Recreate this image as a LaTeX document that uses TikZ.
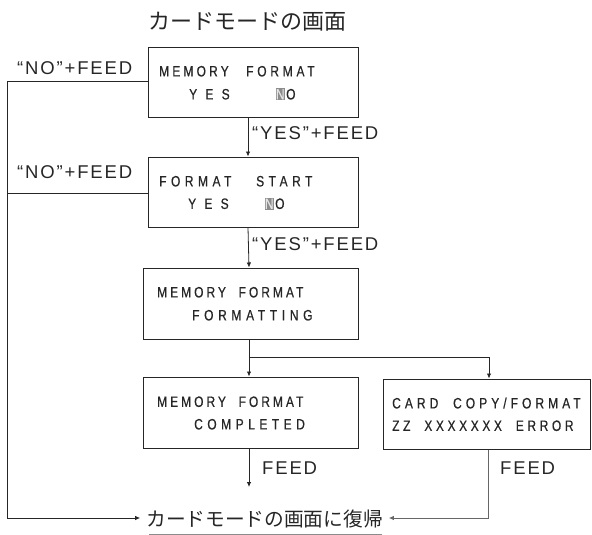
\documentclass[tikz,border=0pt]{standalone}
\usepackage{fontspec}
\setmainfont{Liberation Sans}
\newfontfamily\lcdfont[FakeStretch=0.8,FakeBold=0.6,WordSpace=2]{Liberation Sans}
\newfontfamily\labfont[LetterSpace=10]{Liberation Sans}
\newfontfamily\jpfont{Noto Sans CJK JP}
\newcommand\trk[2]{{\addfontfeature{LetterSpace=#1}#2}}
\usetikzlibrary{arrows.meta}
\begin{document}
\begin{tikzpicture}[x=1pt,y=-1pt,
  box/.style={draw=black!85,line width=1pt,inner sep=0pt,minimum width=#1},
  box/.default=210pt,
  lcd/.style={font=\lcdfont\fontsize{15}{17}\selectfont,inner sep=0pt,anchor=base west,text=black!85},
  hl/.style={font=\lcdfont\fontsize{15}{17}\selectfont,inner xsep=0.2pt,inner ysep=0.8pt,anchor=base west,fill=black!45,text=black!10},
  lab/.style={font=\labfont\fontsize{18.5}{20}\selectfont,inner sep=0pt,anchor=base west,text=black!85},
  conn/.style={draw=black!85,line width=0.8pt},
  arr/.style={conn,-{Latex[length=5pt,width=4.5pt]}},
]
\useasboundingbox (0,0) rectangle (592,535);

% title
\node[font=\jpfont\fontsize{22}{24}\selectfont,inner sep=0pt,text=black!85] (title) at (247.5,22) {カードモードの画面};

% boxes
\node[box,minimum height=69pt] (b1) at (253,82.5) {};
\node[box,minimum height=70pt] (b2) at (253,192) {};
\node[box=215pt,minimum height=71pt] (b3) at (250.5,303.5) {};
\node[box=215pt,minimum height=71pt] (b4) at (250.5,412.5) {};
\node[box=207pt,minimum height=70pt] (b5) at (486.5,414) {};

% box texts
\node[lcd] (t1a) at (159,76.4) {\trk{21}{MEMORY}};
\node[lcd] (t1b) at (246,76.4) {\trk{25}{FORMAT}};
\node[lcd] (t1c) at (189,99.4) {\trk{55}{YES}};
\node[hl] (t1n) at (275.5,99.4) {N};
\node[lcd] (t1o) at (286,99.4) {O};

\node[lcd] (t2a) at (159,186.4) {\trk{30}{FORMAT}};
\node[lcd] (t2b) at (256,186.4) {\trk{30}{START}};
\node[lcd] (t2c) at (188,208.9) {\trk{55}{YES}};
\node[hl] (t2n) at (264.5,208.9) {N};
\node[lcd] (t2o) at (275,208.9) {O};

\node[lcd] (t3a) at (157,297.4) {\trk{20}{MEMORY FORMAT}};
\node[lcd] (t3b) at (192,320.4) {\trk{31}{FORMATTING}};

\node[lcd] (t4a) at (157,406.9) {\trk{20}{MEMORY FORMAT}};
\node[lcd] (t4b) at (194,429.4) {\trk{30}{COMPLETED}};

\node[lcd] (t5a) at (392,408.4) {\trk{27}{CARD COPY/FORMAT}};
\node[lcd] (t5b) at (392,430.9) {\trk{24}{ZZ XXXXXXX ERROR}};

% labels
\node[lab] (l1) at (17,74.5) {“NO”+FEED};
\node[lab] (l2) at (17,178.5) {“NO”+FEED};
\node[lab] (l3) at (252,139.5) {“YES”+FEED};
\node[lab] (l4) at (252,250.5) {“YES”+FEED};
\node[lab] (l5) at (262,474) {FEED};
\node[lab] (l6) at (500,474) {FEED};

% return text
\node[font=\jpfont\fontsize{19.7}{22}\selectfont,inner xsep=6pt,inner ysep=0pt,text=black!85] (ret) at (264.5,519.5) {カードモードの画面に復帰};
\coordinate (u1) at (149,534);
\coordinate (u2) at (382,534);
\draw[black!45,line width=0.8pt] (u1) -- (u2);

% coordinates
\coordinate (lx) at (7,0);
\coordinate (j) at (249,357);
\coordinate (e4) at (249,487);
\coordinate (rw) at ([yshift=1.5pt]ret.west);
\coordinate (re) at ([yshift=1.5pt]ret.east);
\coordinate (w2) at ([yshift=-1pt]b2.west);

% connectors
\draw[arr] ([xshift=-5pt]b1.south) -- ([xshift=-5pt]b2.north);
\draw[arr] ([xshift=-5pt]b2.south) -- ([xshift=-1.5pt]b3.north);
\draw[conn] ([xshift=-1.5pt]b3.south) -- (j);
\draw[arr] (j) -- ([xshift=-1.5pt]b4.north);
\draw[arr] (j) -| ([xshift=2.5pt]b5.north);
\draw[arr] ([xshift=-1.5pt]b4.south) -- (e4);
\draw[arr,draw=black!60] ([xshift=1.5pt]b5.south) |- (re);
\draw[arr] ([yshift=1.5pt]b1.west) -| (lx |- rw) -- (rw);
\draw[conn] (w2) -- (w2 -| lx);
\end{tikzpicture}
\end{document}
